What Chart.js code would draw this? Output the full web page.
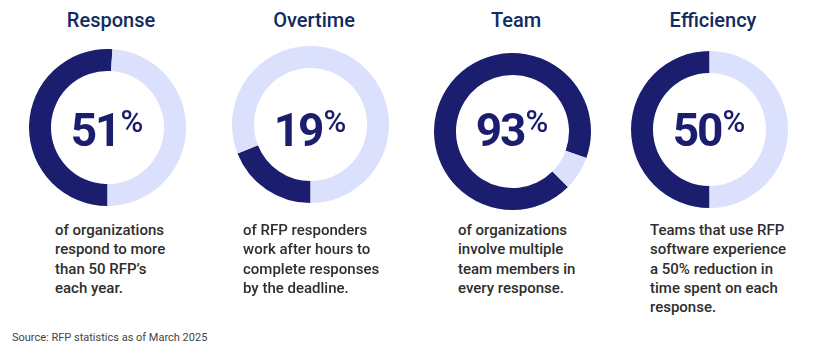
<!DOCTYPE html>
<html>
<head>
<meta charset="utf-8">
<script src="https://cdn.jsdelivr.net/npm/chart.js@4"></script>
<style>
  html, body { margin: 0; padding: 0; background: #ffffff; }
  body { width: 830px; height: 355px; position: relative; overflow: hidden; font-family: Roboto, "Open Sans", sans-serif; }
  .title { position: absolute; top: 8px; width: 160px; text-align: center; font-size: 20px; line-height: 24px; font-weight: 500; color: #112b60; }
  canvas { position: absolute; }
  .num { position: absolute; top: 107px; width: 140px; text-align: center; font-size: 46px; line-height: 46px; font-weight: 700; color: #1b1e6e; letter-spacing: -2px; white-space: nowrap; }
  .num .pct { display: inline-block; font-size: 31px; line-height: 30px; font-weight: 500; vertical-align: top; margin-left: 1px; letter-spacing: 0; }
  .desc { position: absolute; top: 221px; font-size: 15px; line-height: 19.3px; font-weight: 500; color: #2e2e2e; white-space: nowrap; }
  .source { position: absolute; left: 12px; top: 331px; font-size: 11px; line-height: 13px; color: #444444; }
</style>
</head>
<body>
<div class="source">Source: RFP statistics as of March 2025</div>
<script>
// ---- data ----
const titles = ['Response', 'Overtime', 'Team', 'Efficiency'];
const values = [51, 19, 93, 50];
const descriptions = [
  ['of organizations', 'respond to more', 'than 50 RFP\u2019s', 'each year.'],
  ['of RFP responders', 'work after hours to', 'complete responses', 'by the deadline.'],
  ['of organizations', 'involve multiple', 'team members in', 'every response.'],
  ['Teams that use RFP', 'software experience', 'a 50% reduction in', 'time spent on each', 'response.']
];

// ---- layout / style ----
const centers = [[107, 127], [310, 124], [512, 131], [709, 129]];
const rotations = [180, 180, 135, 180];
const descLeft = [55, 243, 458, 650];
const size = 157;
const dark = '#1b1e6e';
const light = '#dbe0fd';

titles.forEach((t, i) => {
  const [cx, cy] = centers[i];

  const title = document.createElement('div');
  title.className = 'title';
  title.style.left = (cx + 4 - 80) + 'px';
  title.textContent = t;
  document.body.appendChild(title);

  const canvas = document.createElement('canvas');
  canvas.width = size; canvas.height = size;
  canvas.style.left = (cx - size / 2) + 'px';
  canvas.style.top = (cy - size / 2) + 'px';
  canvas.style.width = size + 'px';
  canvas.style.height = size + 'px';
  document.body.appendChild(canvas);

  new Chart(canvas, {
    type: 'doughnut',
    data: {
      labels: [t, 'Other'],
      datasets: [{
        data: [values[i], 100 - values[i]],
        backgroundColor: [dark, light],
        borderWidth: 0
      }]
    },
    options: {
      responsive: false,
      animation: false,
      events: [],
      rotation: rotations[i],
      cutout: '72%',
      layout: { padding: 0 },
      plugins: { legend: { display: false }, tooltip: { enabled: false }, title: { display: false } }
    }
  });

  const num = document.createElement('div');
  num.className = 'num';
  num.style.left = (cx - 70) + 'px';
  const n = document.createElement('span');
  n.textContent = String(values[i]);
  const p = document.createElement('span');
  p.className = 'pct';
  p.textContent = '%';
  num.appendChild(n); num.appendChild(p);
  document.body.appendChild(num);

  const desc = document.createElement('div');
  desc.className = 'desc';
  desc.style.left = descLeft[i] + 'px';
  desc.innerHTML = descriptions[i].map(s => s.replace(/&/g, '&amp;').replace(/</g, '&lt;')).join('<br>');
  document.body.appendChild(desc);
});
</script>
</body>
</html>
